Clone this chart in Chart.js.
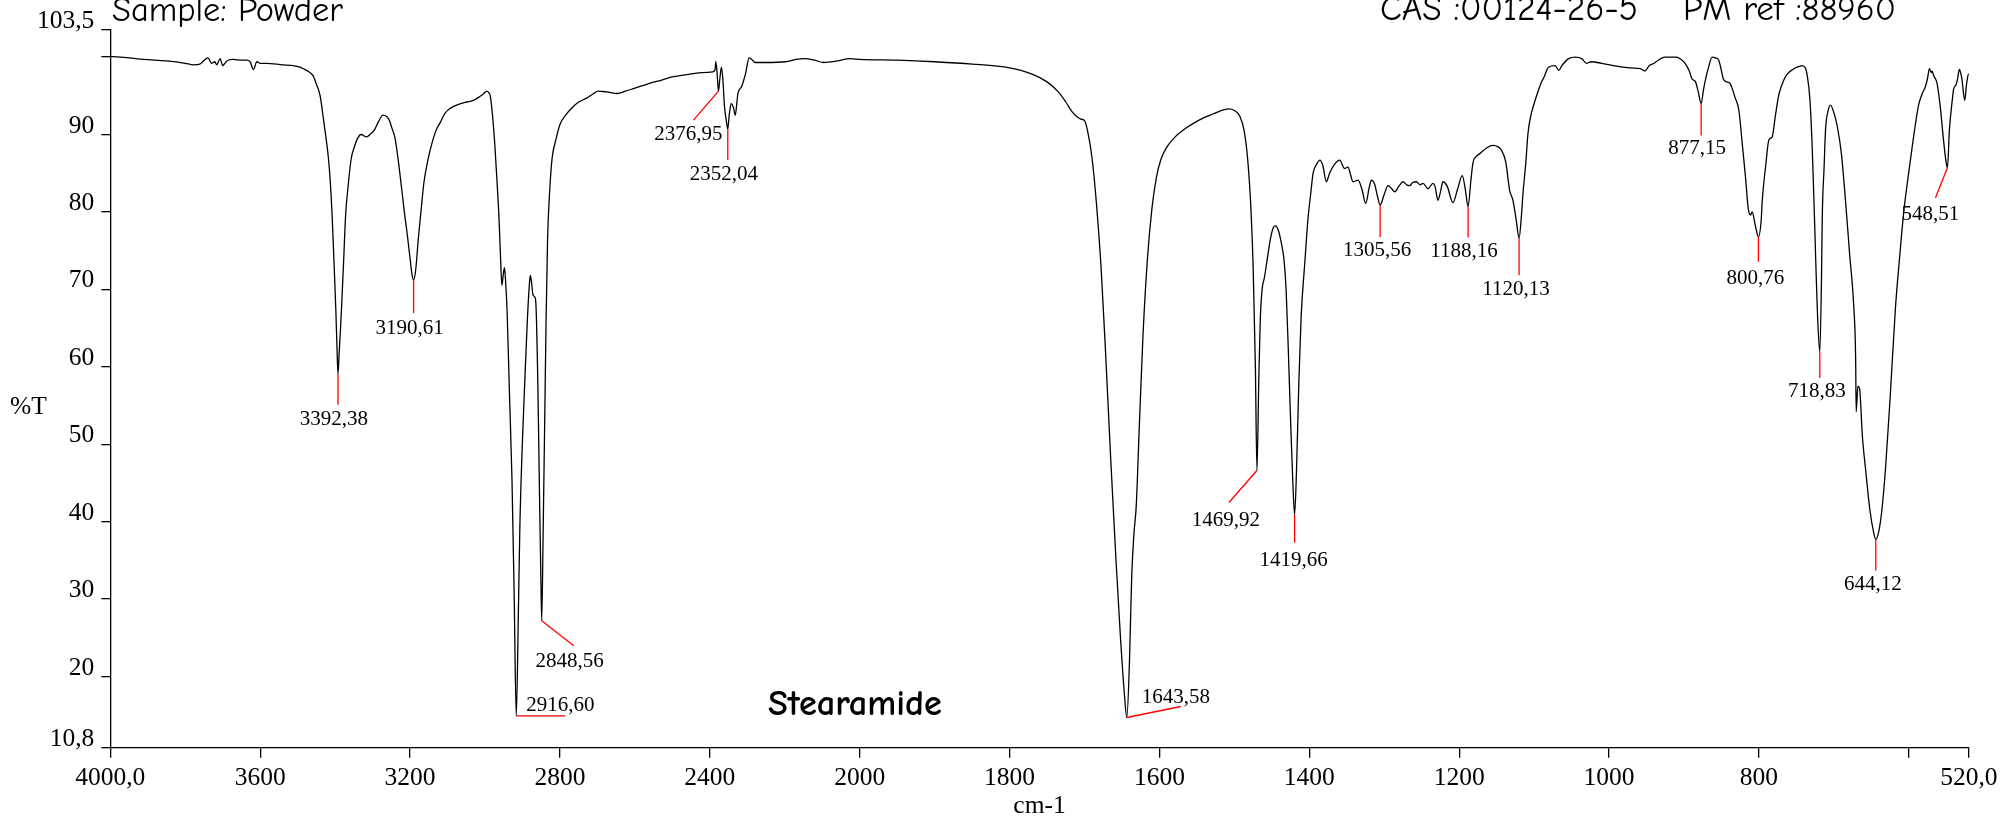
<!DOCTYPE html>
<html>
<head>
<meta charset="utf-8">
<script src="https://cdn.jsdelivr.net/npm/chart.js@4.4.1/dist/chart.umd.min.js"></script>
<style>
  html, body { margin: 0; padding: 0; background: #fff; }
  #wrap { width: 2003px; height: 820px; position: relative; }
</style>
</head>
<body>
<div id="wrap"><canvas id="c" width="2003" height="820"></canvas></div>
<script>
// ---------------- DATA ----------------
const sampleText = 'Sample: Powder';
const casText = 'CAS :00124-26-5';
const refText = 'PM ref :88960';
const compoundName = 'Stearamide';
const yAxisTitle = '%T';
const xAxisTitle = 'cm-1';

const wavenumber = [
  4000, 3950, 3912, 3850, 3800, 3778, 3761, 3747, 3739, 3730, 3721, 3716, 3707, 3700, 3689, 3672, 3650, 3636, 3627, 3618, 3609, 3600,
  3583, 3540, 3512, 3494, 3485, 3470, 3459, 3450, 3440, 3432, 3425, 3418, 3413, 3408, 3403, 3398, 3395, 3392.38, 3389, 3385, 3382,
  3377, 3372, 3365, 3357, 3350, 3340, 3331, 3316, 3305, 3295, 3285, 3272, 3262, 3255, 3249, 3240, 3229, 3220, 3214, 3209, 3200, 3195,
  3190.61, 3185, 3178, 3170, 3163, 3152, 3142, 3130, 3120, 3106, 3085, 3065, 3049, 3031, 3014, 3003, 2996, 2990, 2986, 2980, 2974,
  2968, 2963, 2958, 2955, 2951, 2948, 2945, 2941, 2935, 2928, 2922, 2916.60, 2911, 2907, 2900, 2894, 2887, 2881, 2879, 2876, 2872,
  2867, 2864, 2859, 2855, 2851, 2848.56, 2845, 2841, 2837, 2833, 2827, 2821, 2810, 2800, 2785, 2769, 2750, 2729, 2710, 2698, 2675,
  2647, 2625, 2606, 2580, 2555, 2530, 2504, 2480, 2453, 2420, 2392, 2386, 2384, 2381, 2376.95, 2373, 2369, 2365, 2361, 2356, 2352.04,
  2348, 2343, 2337, 2332, 2328, 2325, 2315, 2305, 2295, 2288, 2279, 2250, 2198, 2170, 2147, 2120, 2096, 2060, 2026,
  2000, 1950, 1900, 1850, 1800, 1770, 1750, 1735, 1725, 1717, 1710, 1705, 1700, 1696, 1690, 1684, 1678, 1672, 1665, 1658, 1652, 1647,
  1643.58, 1640, 1637, 1634, 1631, 1627, 1622, 1616, 1610, 1604, 1598, 1590, 1580, 1565, 1550, 1535, 1520, 1508, 1500, 1493, 1487,
  1482, 1478, 1475, 1472, 1469.92, 1467.5, 1465.5, 1463, 1460, 1456, 1452, 1448, 1445, 1441, 1437, 1434, 1431, 1428, 1425, 1422,
  1419.66, 1417, 1414, 1411, 1406, 1402, 1398, 1395, 1390, 1386, 1382, 1377.3, 1373, 1366, 1359.5, 1353, 1348.4, 1345, 1341.8, 1335,
  1330, 1324.8, 1320, 1317.2, 1313, 1309, 1305.56, 1300, 1295.1, 1290, 1286.1, 1280, 1275, 1270, 1266.1, 1262, 1257.2, 1252, 1248.3,
  1241.7, 1235, 1232, 1228.4, 1225, 1221.7, 1216, 1208.4, 1202, 1195.9, 1192, 1188.16, 1184.5, 1181.7, 1177, 1172.8, 1163, 1155,
  1148, 1143.8, 1138, 1132.7, 1128.3, 1124, 1120.13, 1117, 1114.9, 1111, 1108.3, 1104.8, 1100, 1095.8, 1091, 1086.9, 1080.9, 1072,
  1067.1, 1063, 1054, 1045, 1036.6, 1030, 1024, 1010, 994.2, 982.2, 970, 958.3, 952.3, 946.3, 940, 934.4, 925.4, 910.4, 904, 898.5,
  893, 889.5, 884.7, 881, 877.15, 874, 871.6, 867, 862.6, 858, 853.7, 850, 847.7, 843, 838.7, 832, 826.8, 822, 818, 814.4, 811.3,
  809.1, 805, 800.76, 797, 795.7, 791, 786.8, 782.4, 778, 773.4, 767, 762.3, 753.4, 746, 742.3, 738, 735.6, 732, 729, 726.5, 724.5,
  722, 718.83, 716.5, 715.6, 713, 711.2, 708, 704.5, 700, 695.6, 690, 684.5, 679, 673.4, 671, 670.3, 668, 665.8, 662, 657.8, 652,
  647, 644.12, 640, 636, 631.2, 625, 617.9, 612, 606.8, 601, 595.7, 591, 586.8, 582, 577.9, 575, 572.6, 570, 569, 566.8, 562.4, 558,
  554, 550.4, 548.51, 545.9, 542, 540.2, 537.1, 535, 532.6, 530.5, 529.1, 525.5, 523, 521.1, 520
];

const transmittance = [
  100.1, 99.9, 99.7, 99.5, 99.2, 99.0, 99.1, 99.7, 99.9, 99.2, 99.4, 99.0, 99.8, 98.9, 99.5, 99.7, 99.6, 99.6, 99.4, 98.4, 99.4, 99.2,
  99.2, 99.0, 98.9, 98.7, 98.5, 98.1, 97.6, 96.5, 95.0, 92.3, 89.8, 87.0, 84.0, 79.6, 73.5, 67.2, 62.5, 59.1, 62.0, 65.5, 68.5,
  74.0, 79.6, 83.5, 86.9, 88.2, 89.5, 90.0, 89.7, 90.1, 90.6, 91.6, 92.5, 92.3, 91.8, 90.9, 89.5, 85.7, 82.0, 79.5, 77.7, 74.0, 72.0,
  71.2, 72.5, 76.5, 80.5, 83.8, 86.8, 88.8, 90.6, 91.5, 92.8, 93.6, 94.0, 94.2, 94.4, 94.9, 95.3, 95.6, 95.4, 95.0, 92.5, 88.8,
  84.0, 79.6, 73.5, 70.5, 72.0, 72.8, 71.0, 67.2, 57.0, 45.5, 30.0, 14.9, 28.0, 39.3, 50.5, 57.9, 66.0, 71.0, 71.8, 71.0, 69.3,
  69.0, 68.0, 57.9, 45.0, 33.0, 27.2, 38.0, 51.8, 66.0, 76.5, 83.0, 86.9, 89.5, 91.3, 92.5, 93.4, 94.2, 94.7, 95.3, 95.6, 95.5,
  95.3, 95.6, 95.9, 96.3, 96.7, 97.0, 97.4, 97.6, 97.8, 98.0, 98.1, 98.4, 99.4, 98.2, 95.6, 97.3, 98.7, 97.0, 93.7, 91.8, 90.7,
  92.6, 94.0, 93.5, 92.5, 94.0, 95.3, 96.2, 97.8, 99.9, 99.7, 99.3, 99.3, 99.4, 99.7, 99.8, 99.6, 99.3, 99.5, 99.8,
  99.7, 99.6, 99.4, 99.1, 98.6, 97.8, 96.8, 95.5, 94.2, 93.0, 92.3, 92.0, 91.8, 90.5, 87.0, 81.0, 73.0, 62.0, 48.0, 35.0, 25.0, 18.0,
  14.7, 22.0, 33.0, 38.5, 42.0, 52.0, 64.0, 74.0, 80.5, 84.5, 86.8, 88.4, 89.6, 90.8, 91.7, 92.4, 93.0, 93.3, 93.1, 92.4, 90.5,
  86.5, 80.5, 73.0, 60.0, 46.6, 58.0, 66.0, 70.0, 71.5, 74.0, 76.5, 78.0, 78.2, 77.5, 75.8, 74.0, 70.0, 62.0, 53.0, 45.0,
  40.9, 47.0, 58.0, 66.4, 73.5, 78.9, 82.5, 85.0, 86.2, 86.7, 86.0, 83.9, 85.0, 86.2, 86.7, 85.6, 85.8, 84.8, 83.9, 84.1,
  83.0, 81.1, 83.2, 84.1, 83.6, 82.0, 80.9, 82.3, 83.4, 83.0, 82.6, 83.4, 83.9, 83.5, 83.4, 83.8, 83.9, 83.5, 83.7,
  83.0, 83.7, 83.2, 81.5, 82.6, 83.9, 83.3, 81.2, 83.0, 84.7, 83.0, 80.7, 84.0, 86.3, 87.2, 87.5, 88.3, 88.6,
  88.4, 88.0, 86.5, 82.8, 81.5, 79.0, 76.6, 79.5, 82.4, 86.5, 90.1, 92.3, 94.0, 95.3, 96.6, 97.4, 98.7, 98.9,
  98.3, 98.9, 99.8, 100.0, 99.8, 99.2, 99.4, 99.2, 98.9, 98.7, 98.6, 98.5, 98.2, 98.9, 99.2, 99.6, 100.0, 100.0, 99.7, 99.2,
  98.2, 97.2, 96.8, 95.5, 94.0, 95.8, 97.0, 98.8, 100.0, 99.9, 99.6, 98.2, 97.2, 96.8, 96.6, 94.8, 93.1, 88.5, 84.5, 80.5, 79.6,
  80.0, 78.3, 76.8, 79.0, 81.4, 86.0, 89.3, 89.7, 92.5, 95.2, 97.0, 97.8, 98.5, 98.8, 98.9, 98.6, 97.6, 94.5, 88.4, 81.0, 74.5,
  67.0, 61.9, 72.0, 79.1, 86.0, 90.6, 93.0, 93.8, 92.8, 91.1, 87.5, 81.4, 74.5, 67.6, 61.0, 54.2, 57.5, 57.2, 51.0, 46.8, 41.5,
  38.6, 37.7, 38.8, 41.5, 46.8, 56.0, 67.6, 74.5, 80.0, 84.5, 88.3, 91.5, 93.9, 95.3, 96.2, 97.3, 98.5, 98.0, 98.2, 97.6, 96.6, 93.5,
  89.5, 86.5, 85.7, 90.6, 94.5, 95.9, 96.4, 97.2, 98.4, 97.8, 97.1, 94.4, 96.5, 97.6, 97.9
];

// labelled peaks (cm-1)
const peakWavenumbers = [3392.38, 3190.61, 2916.60, 2848.56, 2376.95, 2352.04, 1643.58, 1469.92, 1419.66,
                         1305.56, 1188.16, 1120.13, 877.15, 800.76, 718.83, 644.12, 548.51];

// axis ticks
const xTickValues = [4000, 3600, 3200, 2800, 2400, 2000, 1800, 1600, 1400, 1200, 1000, 800, 600, 520];
const xTickLabels = ['4000,0', '3600', '3200', '2800', '2400', '2000', '1800', '1600', '1400', '1200', '1000', '800', '', '520,0'];
const yTickValues = [10.8, 20, 30, 40, 50, 60, 70, 80, 90, 100, 103.5];
const yTickLabels = ['10,8', '20', '30', '40', '50', '60', '70', '80', '90', '', '103,5'];

// ---------------- LAYOUT / STYLE (not data) ----------------
const X_MAX = 4000, X_MIN = 520, X_BREAK = 2000, X_EXPAND = 2; // spectrometer 2x expansion below 2000 cm-1
// red leader line end (lx,ly) and label anchor (tx,ty), in px relative to the peak point
const peakLayout = [
  {lx: 0, ly: 31, tx: -4, ty: 51, align: 'center'},
  {lx: 0, ly: 33, tx: -4, ty: 54, align: 'center'},
  {lx: 49, ly: 0, tx: 10, ty: -5, align: 'left'},
  {lx: 32, ly: 25, tx: 28, ty: 46, align: 'center'},
  {lx: -25, ly: 29, tx: -30, ty: 49, align: 'center'},
  {lx: 0, ly: 31, tx: -4, ty: 51, align: 'center'},
  {lx: 54, ly: -11, tx: 15, ty: -15, align: 'left'},
  {lx: -28, ly: 32, tx: -31, ty: 55, align: 'center'},
  {lx: 0, ly: 28, tx: -1, ty: 51, align: 'center'},
  {lx: 0, ly: 32, tx: -3, ty: 51, align: 'center'},
  {lx: 0, ly: 31, tx: -4, ty: 50, align: 'center'},
  {lx: 0, ly: 37, tx: -3, ty: 57, align: 'center'},
  {lx: 0, ly: 32, tx: -4, ty: 50, align: 'center'},
  {lx: 0, ly: 25, tx: -3, ty: 47, align: 'center'},
  {lx: 0, ly: 26, tx: -3, ty: 45, align: 'center'},
  {lx: 0, ly: 31, tx: -3, ty: 51, align: 'center'},
  {lx: -12, ly: 30, tx: -17, ty: 52, align: 'center'}
];

const SERIF = '"Liberation Serif", "Times New Roman", serif';
const COMIC = '"Comic Sans MS", "Comic Neue", "DejaVu Sans", sans-serif';

// ---------------- custom piecewise IR wavenumber scale ----------------
class IRScale extends Chart.LinearScale {
  _frac(v) {
    const total = (X_MAX - X_BREAK) + X_EXPAND * (X_BREAK - X_MIN);
    const u = v >= X_BREAK ? (X_MAX - v) : (X_MAX - X_BREAK) + X_EXPAND * (X_BREAK - v);
    return u / total;
  }
  getPixelForValue(v) {
    return this.getPixelForDecimal(this._frac(v));
  }
  getValueForPixel(p) {
    const total = (X_MAX - X_BREAK) + X_EXPAND * (X_BREAK - X_MIN);
    const u = this.getDecimalForPixel(p) * total;
    return u <= (X_MAX - X_BREAK) ? X_MAX - u : X_BREAK - (u - (X_MAX - X_BREAK)) / X_EXPAND;
  }
}
IRScale.id = 'irscale';
IRScale.defaults = Chart.LinearScale.defaults;
Chart.register(IRScale);

function valueAt(w) {
  let best = 0, bd = Infinity;
  wavenumber.forEach((x, i) => { const d = Math.abs(x - w); if (d < bd) { bd = d; best = i; } });
  return transmittance[best];
}

function fitText(ctx, text, x, y, width, family, weight, base) {
  ctx.font = `${weight} ${base}px ${family}`;
  const m = ctx.measureText(text).width;
  const size = base * width / m;
  ctx.font = `${weight} ${size}px ${family}`;
  ctx.fillText(text, x, y);
}

const overlay = {
  id: 'overlay',
  afterDraw(chart) {
    const {ctx} = chart;
    const xs = chart.scales.x, ys = chart.scales.y;
    ctx.save();
    // peak annotations
    peakWavenumbers.forEach((w, i) => {
      const L = peakLayout[i];
      const px = xs.getPixelForValue(w), py = ys.getPixelForValue(valueAt(w));
      ctx.strokeStyle = '#ff0000';
      ctx.lineWidth = 1.3;
      ctx.beginPath();
      ctx.moveTo(px, py);
      ctx.lineTo(px + L.lx, py + L.ly);
      ctx.stroke();
      ctx.fillStyle = '#000';
      ctx.font = `21px ${SERIF}`;
      ctx.textAlign = L.align;
      ctx.textBaseline = 'alphabetic';
      ctx.fillText(w.toFixed(2).replace('.', ','), px + L.tx, py + L.ty);
    });
    // header & name texts
    ctx.fillStyle = '#000';
    ctx.textAlign = 'left';
    ctx.textBaseline = 'alphabetic';
    fitText(ctx, sampleText, 112, 20.7, 231, COMIC, 'normal', 29);
    fitText(ctx, casText, 1380, 20.3, 258, COMIC, 'normal', 29);
    fitText(ctx, refText, 1683, 20.3, 213, COMIC, 'normal', 29);
    fitText(ctx, compoundName, 768, 715, 174, COMIC, 'bold', 29);
    // y axis title (horizontal)
    ctx.font = `25.5px ${SERIF}`;
    ctx.fillText(yAxisTitle, 10, 414);
    ctx.restore();
  }
};

const AXIS_FONT = {family: SERIF, size: 25.5};

new Chart(document.getElementById('c'), {
  type: 'line',
  data: {
    datasets: [{
      data: wavenumber.map((w, i) => ({x: w, y: transmittance[i]})),
      borderColor: '#000',
      borderWidth: 1.3,
      pointRadius: 0,
      fill: false,
      cubicInterpolationMode: 'monotone'
    }]
  },
  options: {
    responsive: false,
    animation: false,
    events: [],
    layout: {padding: {left: 0, top: 30, right: 34, bottom: 0}},
    plugins: {legend: {display: false}, tooltip: {enabled: false}},
    scales: {
      x: {
        type: 'irscale',
        min: X_MIN,
        max: X_MAX,
        afterBuildTicks: s => { s.ticks = xTickValues.map(v => ({value: v})); },
        afterFit: s => { s.height = 72.3; },
        ticks: {
          callback: (v, i) => xTickLabels[i],
          autoSkip: false, maxRotation: 0, minRotation: 0,
          font: AXIS_FONT, color: '#000', padding: 5.5
        },
        grid: {drawOnChartArea: false, drawTicks: true, tickLength: 10, color: '#000', lineWidth: 1.3},
        border: {display: true, color: '#000', width: 1.3},
        title: {display: true, text: xAxisTitle, color: '#000', font: {family: SERIF, size: 25.5, lineHeight: 1.1}, padding: {top: 0, bottom: 0}}
      },
      y: {
        type: 'linear',
        min: 10.8,
        max: 103.5,
        afterBuildTicks: s => { s.ticks = yTickValues.map(v => ({value: v})); },
        afterFit: s => { s.width = 110.3; },
        ticks: {
          callback: (v, i) => yTickLabels[i],
          autoSkip: false, font: AXIS_FONT, color: '#000', padding: 7, labelOffset: -8.6
        },
        grid: {drawOnChartArea: false, drawTicks: true, tickLength: 9, color: '#000', lineWidth: 1.3},
        border: {display: true, color: '#000', width: 1.3}
      }
    }
  },
  plugins: [overlay]
});
</script>
</body>
</html>
